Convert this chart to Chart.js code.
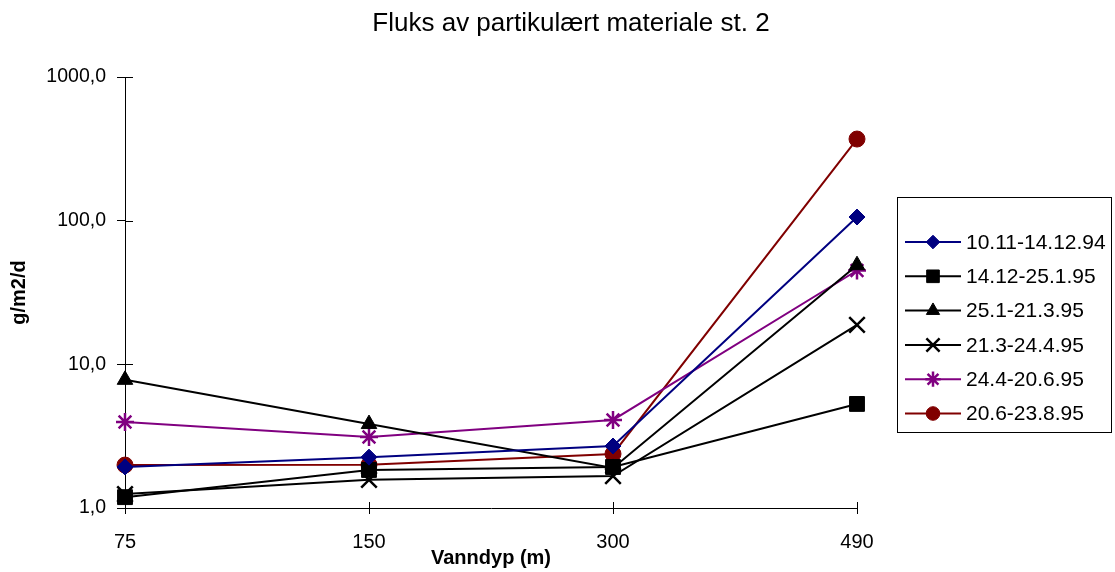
<!DOCTYPE html>
<html>
<head>
<meta charset="utf-8">
<script src="https://cdn.jsdelivr.net/npm/chart.js@4/dist/chart.umd.min.js"></script>
<style>
  body { margin: 0; background: #fff; }
  #wrap { width: 1115px; height: 572px; }
</style>
</head>
<body>
<div id="wrap"><canvas id="canvas"></canvas></div>
<script>
// kategorier (vanndyp i meter)
var depths = ['75', '150', '300', '490'];
// serienavn
var periods = ['10.11-14.12.94', '14.12-25.1.95', '25.1-21.3.95', '21.3-24.4.95', '24.4-20.6.95', '20.6-23.8.95'];
// fluks verdier g/m2/d, lest av figuren
var flux1 = [1.93, 2.26, 2.70, 106];
var flux2 = [1.19, 1.84, 1.93, 5.3];
var flux3 = [7.8, 3.84, 1.9, 49];
var flux4 = [1.25, 1.57, 1.67, 18.8];
var flux5 = [3.97, 3.12, 4.1, 45];
var flux6 = [1.99, 2.0, 2.38, 370];
// y-akse tick verdier
var yTicks = [1, 10, 100, 1000];
var chartTitle = 'Fluks av partikulært materiale st. 2';

var FONT = '"Liberation Sans", Arial, sans-serif';
var colors = ['#000080', '#000000', '#000000', '#000000', '#800080', '#800000'];
var styles = ['rectRot', 'rect', 'triangle', 'crossRot', 'star', 'circle'];
var sizes = [8, 10.5, 9, 11, 9, 8];
var allFlux = [flux1, flux2, flux3, flux4, flux5, flux6];

var datasets = allFlux.map(function (vals, i) {
  var thin = styles[i] === 'crossRot' || styles[i] === 'star';
  return {
    label: periods[i],
    data: vals,
    borderColor: colors[i],
    backgroundColor: colors[i],
    borderWidth: 2,
    pointStyle: styles[i],
    pointRadius: sizes[i],
    pointBorderWidth: thin ? 2.5 : 1,
    tension: 0,
    fill: false
  };
});

// tittel, legende og tick-merker som krysser aksene
var extras = {
  id: 'extras',
  afterDraw: function (chart) {
    var ctx = chart.ctx;
    var area = chart.chartArea;
    ctx.save();

    // tittel
    ctx.fillStyle = '#000';
    ctx.font = '26px ' + FONT;
    ctx.textAlign = 'center';
    ctx.textBaseline = 'middle';
    ctx.fillText(chartTitle, 571, 24);

    // indre del av tick-merkene
    ctx.strokeStyle = '#000';
    ctx.lineWidth = 1;
    var ys = chart.scales.y;
    ys.ticks.forEach(function (t, i) {
      var py = Math.round(ys.getPixelForTick(i)) + 0.5;
      ctx.beginPath();
      ctx.moveTo(area.left, py);
      ctx.lineTo(area.left + 8, py);
      ctx.stroke();
    });
    var xs = chart.scales.x;
    xs.ticks.forEach(function (t, i) {
      var px = Math.round(xs.getPixelForTick(i)) + 0.5;
      ctx.beginPath();
      ctx.moveTo(px, area.bottom);
      ctx.lineTo(px, area.bottom - 6);
      ctx.stroke();
    });

    // legende
    var x0 = 897.5, y0 = 197.5, w = 214, h = 235;
    ctx.strokeStyle = '#000';
    ctx.strokeRect(x0, y0, w, h);
    ctx.font = '21px ' + FONT;
    ctx.textAlign = 'left';
    chart.data.datasets.forEach(function (ds, i) {
      var y = 242 + i * 34.3;
      ctx.strokeStyle = ds.borderColor;
      ctx.lineWidth = 2;
      ctx.beginPath();
      ctx.moveTo(905, y);
      ctx.lineTo(961, y);
      ctx.stroke();
      ctx.fillStyle = ds.backgroundColor;
      ctx.lineWidth = ds.pointBorderWidth;
      Chart.helpers.drawPoint(ctx, { pointStyle: ds.pointStyle, radius: ds.pointRadius * 0.85, rotation: 0, borderWidth: ds.pointBorderWidth }, 933, y);
      ctx.fillStyle = '#000';
      ctx.fillText(ds.label, 966, y + 1);
    });
    ctx.restore();
  }
};

new Chart(document.getElementById('canvas'), {
  type: 'line',
  data: { labels: depths, datasets: datasets },
  plugins: [extras],
  options: {
    responsive: true,
    maintainAspectRatio: false,
    animation: false,
    layout: { padding: { left: 0, right: 258, top: 77, bottom: 0 } },
    plugins: {
      legend: { display: false },
      tooltip: { enabled: false },
      title: { display: false }
    },
    scales: {
      x: {
        offset: false,
        grid: { drawOnChartArea: false, color: '#000', tickLength: 6 },
        border: { color: '#000', width: 1 },
        ticks: { color: '#000', font: { family: FONT, size: 20 }, padding: 16, maxRotation: 0 },
        title: {
          display: true,
          text: 'Vanndyp (m)',
          color: '#000',
          font: { family: FONT, size: 20, weight: 'bold' },
          padding: { top: 0, bottom: 2 }
        },
        afterFit: function (scale) { scale.height = 64; }
      },
      y: {
        type: 'logarithmic',
        min: 1,
        max: 1000,
        grid: { drawOnChartArea: false, color: '#000', tickLength: 8 },
        border: { color: '#000', width: 1 },
        afterBuildTicks: function (scale) {
          scale.ticks = yTicks.map(function (v) { return { value: v }; });
        },
        ticks: {
          color: '#000',
          font: { family: FONT, size: 19.5 },
          padding: 11,
          callback: function (v) { return Number(v).toFixed(1).replace('.', ','); }
        },
        title: {
          display: true,
          text: 'g/m2/d',
          color: '#000',
          font: { family: FONT, size: 20, weight: 'bold' },
          padding: { top: 7, bottom: 0 }
        },
        afterFit: function (scale) { scale.width = 125; }
      }
    }
  }
});
</script>
</body>
</html>
